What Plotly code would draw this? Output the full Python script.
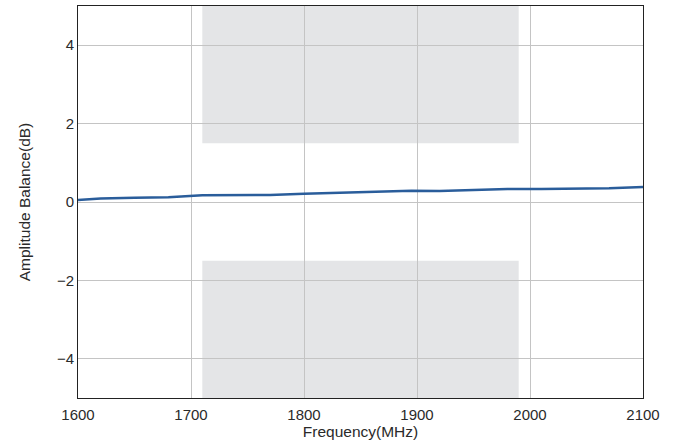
import plotly.graph_objects as go

freq = [1600, 1620, 1650, 1680, 1710, 1740, 1770, 1800, 1830, 1860, 1895, 1920, 1950, 1980, 2010, 2040, 2070, 2100]
balance = [0.05, 0.09, 0.11, 0.12, 0.17, 0.17, 0.18, 0.21, 0.23, 0.25, 0.29, 0.28, 0.31, 0.33, 0.33, 0.34, 0.35, 0.38]

band_x = [1710, 1990]
upper_band = [1.5, 5]
lower_band = [-5, -1.5]

x_ticks = [1600, 1700, 1800, 1900, 2000, 2100]
y_ticks = [-4, -2, 0, 2, 4]

fig = go.Figure()
fig.add_trace(go.Scatter(x=freq, y=balance, mode="lines",
                         line=dict(color="#2a5d9b", width=2.5), showlegend=False))

for y0, y1 in (upper_band, lower_band):
    fig.add_shape(type="rect", xref="x", yref="y", x0=band_x[0], x1=band_x[1],
                  y0=y0, y1=y1, fillcolor="#e4e5e7", line=dict(width=0), layer="below")

font_family = "Liberation Sans, Arial, sans-serif"
fig.update_layout(
    width=678, height=447,
    margin=dict(l=78, r=35, t=6, b=49),
    paper_bgcolor="white", plot_bgcolor="white",
    font=dict(family=font_family, size=15, color="#2a2a2a"),
)
fig.update_xaxes(range=[1600, 2100], tickvals=x_ticks, showgrid=True, gridcolor="#c4c4c4",
                 gridwidth=1, showline=True, linecolor="#222", linewidth=1, mirror=True,
                 zeroline=False, ticks="", ticklabelstandoff=3,
                 tickfont=dict(size=15),
                 title=dict(text="Frequency(MHz)", standoff=4, font=dict(size=15.5)))
fig.update_yaxes(range=[-5, 5], tickvals=y_ticks, ticktext=["\u22124", "\u22122", "0", "2", "4"],
                 showgrid=True, gridcolor="#c4c4c4", gridwidth=1, showline=True,
                 linecolor="#222", linewidth=1, mirror=True, zeroline=False, ticks="",
                 tickfont=dict(size=15),
                 title=dict(text="Amplitude Balance(dB)", standoff=22, font=dict(size=15.5)))

fig.write_html("out.html", config={"displayModeBar": False},
               post_script="document.body.style.margin='0';document.body.style.overflow='hidden';")
